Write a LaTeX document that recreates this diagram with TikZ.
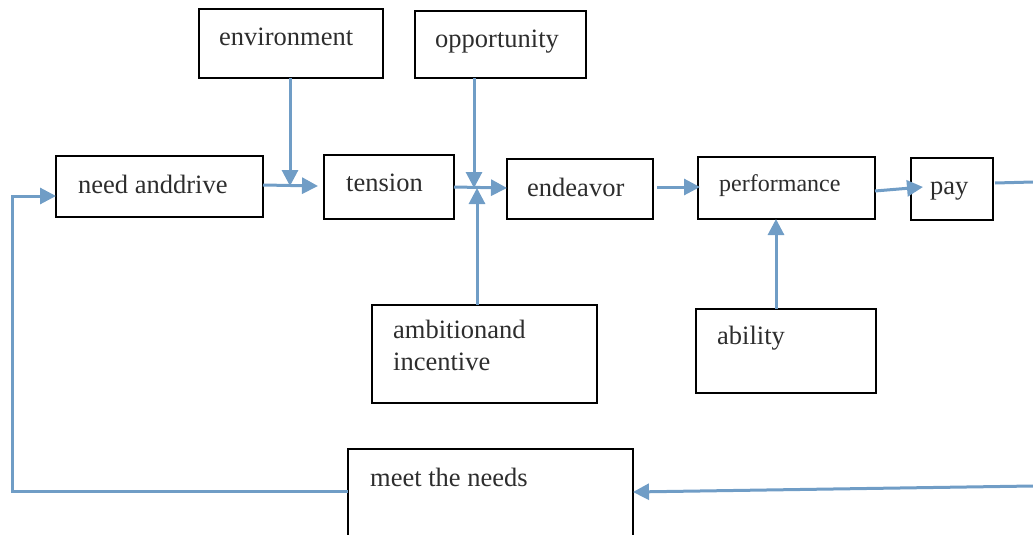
\documentclass[tikz,border=0pt]{standalone}
\usepackage{fontspec}
\setmainfont{Liberation Serif}
\usetikzlibrary{arrows.meta}
\definecolor{arr}{RGB}{112,157,198}
\definecolor{txt}{RGB}{45,45,45}
\begin{document}
\begin{tikzpicture}[x=1pt,y=-1pt,
  box/.style={draw=black,line width=1.8pt,anchor=north west,inner sep=0pt,outer sep=0pt},
  lbl/.style={anchor=base west,inner sep=0pt,text=txt,font=\fontsize{26.5}{32}\selectfont},
  smalllbl/.style={lbl,font=\fontsize{24}{28}\selectfont},
  flow/.style={draw=arr,line width=3pt,-{Triangle[length=16pt,width=16pt]}},
  plain/.style={draw=arr,line width=3pt}]
\useasboundingbox (0,0) rectangle (1033,535);
% boxes
\node[box,minimum width=184pt,minimum height=69pt] (env) at (199,9) {};
\node[box,minimum width=171pt,minimum height=67pt] (opp) at (415,11) {};
\node[box,minimum width=207pt,minimum height=61pt] (need) at (56,156) {};
\node[box,minimum width=130pt,minimum height=64pt] (ten) at (324,155) {};
\node[box,minimum width=146pt,minimum height=60pt] (end) at (507,159) {};
\node[box,minimum width=177pt,minimum height=62pt] (perf) at (698,157) {};
\node[box,minimum width=82pt,minimum height=62pt] (pay) at (911,158) {};
\node[box,minimum width=225pt,minimum height=98pt] (amb) at (372,305) {};
\node[box,minimum width=180pt,minimum height=84pt] (abil) at (696,309) {};
\node[box,minimum width=285pt,minimum height=100pt] (meet) at (348,449) {};
% labels
\node[lbl] (envT) at (219,46) {environment};
\node[lbl] (oppT) at (435,48) {opportunity};
\node[lbl] (needT) at (78,193) {need anddrive};
\node[lbl] (tenT) at (346,191) {tension};
\node[lbl] (endT) at (527,196) {endeavor};
\node[smalllbl] (perfT) at (719,191) {performance};
\node[lbl] (payT) at (930,194) {pay};
\node[lbl] (ambT1) at (393,338) {ambitionand};
\node[lbl] (ambT2) at (393,370) {incentive};
\node[lbl] (abilT) at (717,344) {ability};
\node[lbl] (meetT) at (370,486) {meet the needs};
% junction coordinates
\coordinate (j1) at (290,186);
\coordinate (rtop) at (1033,182);
\coordinate (rbot) at (1033,486);
\coordinate (lbot) at (12,491);
\coordinate (ltop) at (12,196);
% connectors
\draw[flow] (need.east |- 0,185) -- ([xshift=-6pt]ten.west |- 0,186);
\draw[flow] (env.south -| j1) -- (j1);
\draw[flow] (ten.east |- 0,187) -- (end.west |- 0,188);
\draw[flow] (opp.south -| 474,0) -- (474,188);
\draw[flow] (amb.north -| 477,0) -- (477,188);
\draw[flow] ([xshift=4pt]end.east |- 0,187) -- ([xshift=2pt]perf.west |- 0,187);
\draw[flow] (abil.north -| 776,0) -- (perf.south -| 776,0);
\draw[flow] (perf.east |- 0,191) -- ([xshift=12pt]pay.west |- 0,187);
\draw[plain] ([xshift=2pt]pay.east |- 0,183) -- (rtop);
\draw[flow] (rbot) -- (meet.east |- 0,492);
\draw[flow] (meet.west |- 0,491) -- (lbot) -- (ltop) -- (need.west |- 0,196);
\end{tikzpicture}
\end{document}
